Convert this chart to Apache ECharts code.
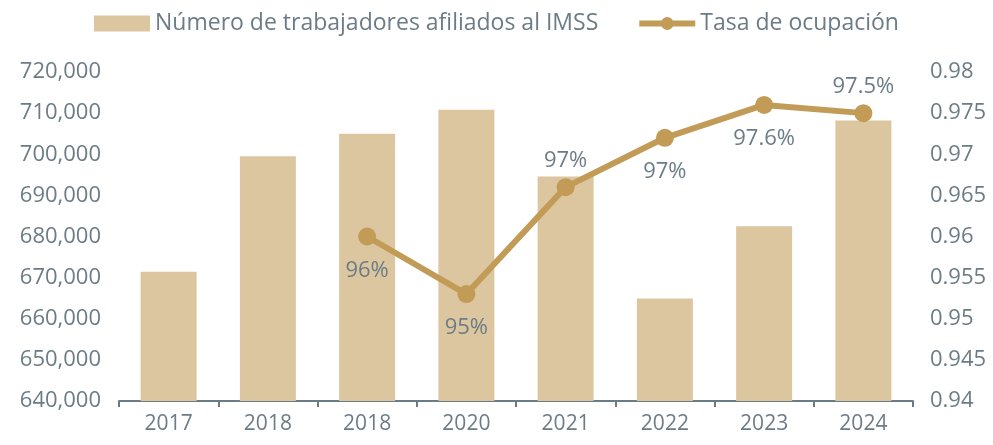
<!DOCTYPE html>
<html>
<head>
<meta charset="utf-8">
<script src="https://cdn.jsdelivr.net/npm/echarts@6/dist/echarts.min.js"></script>
<style>
  html, body { margin: 0; padding: 0; background: #fff; }
  #chart { width: 993px; height: 445px; }
</style>
</head>
<body>
<div id="chart"></div>
<script>
// categorias (el original repite 2018)
var years = ['2017', '2018', '2018', '2020', '2021', '2022', '2023', '2024']
// trabajadores afiliados al IMSS
var afiliados = [671400, 699500, 705000, 710800, 694600, 664900, 682500, 708200]
// tasa de ocupacion
var tasa = ['-', '-', 0.96, 0.953, 0.966, 0.972, 0.976, 0.975]
var tasaEtiquetas = ['', '', '96%', '95%', '97%', '97%', '97.6%', '97.5%']
var posEtiquetas = ['', '', 'bottom', 'bottom', 'top', 'bottom', 'bottom', 'top']

var gris = '#6c7c86'
var dorado = '#c29b57'
var font = '"Open Sans", "Noto Sans", sans-serif'

var lineData = tasa.map(function (v, i) {
  var pos = posEtiquetas[i] || 'top'
  return {
    value: v,
    label: { position: pos, formatter: tasaEtiquetas[i], distance: pos === 'top' ? 6 : 14 }
  }
})

var myChart = echarts.init(document.getElementById('chart'))
myChart.setOption({
  animation: false,
  textStyle: { fontFamily: font },
  grid: { left: 119, right: 80, top: 72, bottom: 44 },
  legend: {
    top: 7,
    left: 'center',
    itemGap: 38,
    itemWidth: 56,
    itemHeight: 16,
    textStyle: { color: gris, fontSize: 23, fontFamily: font },
    data: [
      { name: 'Número de trabajadores afiliados al IMSS', icon: 'rect' },
      { name: 'Tasa de ocupación', lineStyle: { width: 6 } }
    ]
  },
  xAxis: {
    type: 'category',
    data: years,
    axisLine: { lineStyle: { color: gris, width: 2 } },
    axisTick: { show: true, length: 6, lineStyle: { color: gris, width: 2 } },
    axisLabel: { color: gris, fontSize: 21, margin: 13 }
  },
  yAxis: [{
    type: 'value',
    min: 640000,
    max: 720000,
    interval: 10000,
    splitLine: { show: false },
    axisLabel: {
      color: gris,
      fontSize: 22,
      margin: 18,
      formatter: function (v) { return v.toLocaleString('en-US') }
    }
  }, {
    type: 'value',
    min: 0.94,
    max: 0.98,
    interval: 0.005,
    splitLine: { show: false },
    axisLabel: {
      color: gris,
      fontSize: 22,
      margin: 17,
      formatter: function (v) { return String(+v.toFixed(3)) }
    }
  }],
  series: [{
    name: 'Número de trabajadores afiliados al IMSS',
    type: 'bar',
    data: afiliados,
    barWidth: 56,
    itemStyle: { color: '#dcc6a0' }
  }, {
    name: 'Tasa de ocupación',
    type: 'line',
    yAxisIndex: 1,
    data: lineData,
    symbol: 'circle',
    symbolSize: 18,
    lineStyle: { color: dorado, width: 6 },
    itemStyle: { color: dorado },
    label: { show: true, color: gris, fontSize: 22 }
  }]
})
</script>
</body>
</html>
